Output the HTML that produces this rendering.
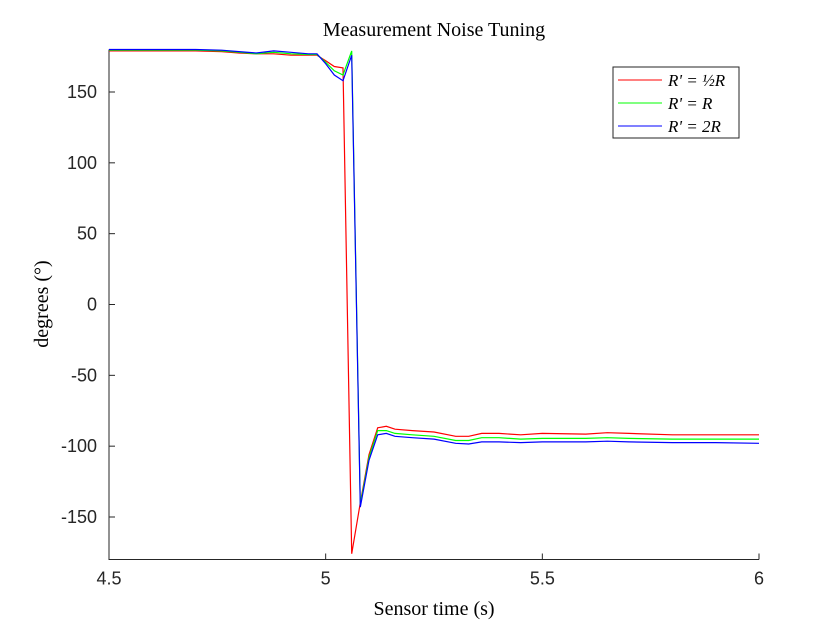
<!DOCTYPE html>
<html><head><meta charset="utf-8"><style>
body{margin:0;background:#fff}
svg{display:block}
</style></head><body>
<svg id="chart" width="840" height="630" xmlns="http://www.w3.org/2000/svg">
<rect width="840" height="630" fill="#fff"/>
<g id="plot"></g>
</svg>
<script>
const times=[4.5,4.6,4.7,4.76,4.8,4.84,4.88,4.92,4.96,4.98,5.0,5.02,5.04,5.06,5.08,5.10,5.12,5.14,5.16,5.2,5.25,5.3,5.33,5.36,5.4,5.45,5.5,5.6,5.65,5.7,5.8,5.9,6.0];
const redVals=[179,179,179,178.5,177.5,177,177,176,176,176,172,168,167,-176,-140,-106,-87,-86,-88,-89,-90,-93,-93,-91,-91,-92,-91,-91.5,-90.5,-91,-92,-92,-92];
const greenVals=[179.5,179.5,179.5,179,178,177,178,177,176.5,176.5,171,165,162,179,-141,-108,-89,-89,-91,-92,-93,-96,-96,-94,-94,-95,-94.5,-94.5,-94,-94.5,-95,-95,-95];
const blueVals=[180,180,180,179.5,178.5,177.5,179,178,177,177,170,162,158,176,-143,-110,-92,-91,-93,-94,-95,-98,-98.5,-97,-97,-97.5,-97,-97,-96.5,-97,-97.5,-97.5,-98];
const xTicks=[4.5,5,5.5,6];
const yTicks=[-150,-100,-50,0,50,100,150];
const seriesNames=["R' = ½R","R' = R","R' = 2R"];

const X0=109,X1=759,Y0=49.5,Y1=559.5;
const xs=t=>X0+(t-4.5)/1.5*(X1-X0);
const ys=v=>Y1-(v+180)/360*(Y1-Y0);
const NS="http://www.w3.org/2000/svg";
const g=document.getElementById('plot');
function mk(tag,attrs,txt){const e=document.createElementNS(NS,tag);for(const k in attrs)e.setAttribute(k,attrs[k]);if(txt!==undefined)e.textContent=txt;g.appendChild(e);return e;}

const ax=mk('path',{d:`M${X0},${Y0} V${Y1} H${X1}`,stroke:'#262626',fill:'none','stroke-width':1});


xTicks.forEach(t=>{
 const l=mk('line',{x1:xs(t),x2:xs(t),y1:Y1,y2:Y1-6,stroke:'#262626'});
 
 
 const tx=mk('text',{x:xs(t),y:Y1+25,'text-anchor':'middle','font-family':'Liberation Sans, sans-serif','font-size':18,fill:'#262626'},String(t));
 
 
});
yTicks.forEach(v=>{
 const l=mk('line',{x1:X0,x2:X0+6,y1:ys(v),y2:ys(v),stroke:'#262626'});
 
 
 const tx=mk('text',{x:X0-12,y:ys(v)+6,'text-anchor':'end','font-family':'Liberation Sans, sans-serif','font-size':18,fill:'#262626'},String(v));
 
 
});
const series=[[redVals,'#ff0000','series-half-r'],[greenVals,'#00ff00','series-r'],[blueVals,'#0000ff','series-2r']];
series.forEach(([vals,col,name])=>{
 const d=vals.map((v,i)=>(i?'L':'M')+xs(times[i]).toFixed(1)+','+ys(v).toFixed(1)).join(' ');
 const p=mk('path',{d:d,stroke:col,fill:'none','stroke-width':1.2});
 
 
});
const t1=mk('text',{x:434,y:36,'text-anchor':'middle','font-family':'Liberation Serif, serif','font-size':20,fill:'#000'},'Measurement Noise Tuning');


const t2=mk('text',{x:434,y:615,'text-anchor':'middle','font-family':'Liberation Serif, serif','font-size':20,fill:'#000'},'Sensor time (s)');


const t3=mk('text',{x:48,y:304,'text-anchor':'middle','font-family':'Liberation Serif, serif','font-size':20,fill:'#000',transform:'rotate(-90 48 304)'},'degrees (°)');


const lb=mk('rect',{x:613,y:67,width:126,height:71,fill:'#fff',stroke:'#262626'});


series.forEach(([v,col,name],i)=>{
 const y=80+i*23;
 const l=mk('line',{x1:618,x2:662,y1:y,y2:y,stroke:col});
 
 
 const t=mk('text',{x:668,y:y+6,'font-family':'Liberation Serif, serif','font-style':'italic','font-size':17,fill:'#000'},seriesNames[i]);
 
 
});
</script>
</body></html>
